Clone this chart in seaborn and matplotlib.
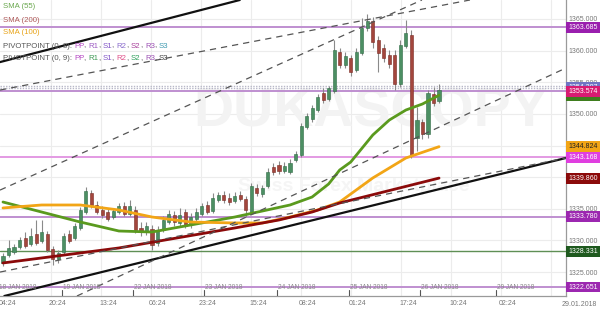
import numpy as np
import pandas as pd
import matplotlib
matplotlib.use("Agg")
import matplotlib.pyplot as plt
import matplotlib.transforms as mtransforms
import seaborn as sns

# ------------------------------------------------------------------ data
opens = [1326.45, 1327.71, 1328.18, 1328.97, 1330.40, 1329.45, 1331.03, 1329.92, 1331.03, 1328.66,
         1327.08, 1328.18, 1331.03, 1330.40, 1331.98, 1334.50, 1337.51, 1335.61, 1334.82, 1334.50,
         1333.71, 1334.50, 1335.45, 1334.19, 1334.82, 1331.98, 1331.34, 1331.82, 1329.61, 1331.66,
         1332.92, 1334.03, 1332.77, 1334.50, 1332.45, 1333.40, 1334.19, 1335.61, 1334.66, 1336.40,
         1337.19, 1336.72, 1336.24, 1337.19, 1336.56, 1334.50, 1338.30, 1337.35, 1338.61, 1341.61,
         1341.93, 1340.98, 1340.82, 1342.72, 1343.51, 1347.93, 1349.20, 1350.62, 1353.31, 1352.36,
         1353.62, 1359.78, 1357.73, 1358.84, 1356.94, 1359.63, 1363.58, 1364.68, 1361.68, 1360.42,
         1359.31, 1359.31, 1354.73, 1360.73, 1362.47, 1346.20, 1348.72, 1346.83, 1353.15, 1352.04]
closes = [1327.55, 1328.82, 1328.97, 1330.08, 1329.13, 1330.71, 1329.61, 1331.34, 1328.50, 1327.08,
          1328.03, 1330.71, 1329.92, 1332.29, 1334.82, 1337.82, 1335.61, 1334.50, 1334.03, 1333.40,
          1334.66, 1335.45, 1334.19, 1335.45, 1331.66, 1331.34, 1332.29, 1329.29, 1331.66, 1333.24,
          1334.19, 1332.92, 1334.03, 1332.29, 1333.71, 1334.50, 1335.45, 1334.50, 1336.72, 1337.19,
          1336.40, 1336.08, 1337.03, 1336.56, 1334.82, 1338.61, 1337.51, 1338.30, 1340.82, 1340.82,
          1340.98, 1341.77, 1342.25, 1343.67, 1348.09, 1349.67, 1350.94, 1352.67, 1352.20, 1354.10,
          1360.10, 1357.73, 1359.15, 1356.62, 1359.78, 1363.58, 1364.68, 1361.36, 1359.63, 1358.84,
          1357.89, 1354.73, 1360.89, 1362.79, 1343.51, 1349.04, 1346.83, 1353.31, 1351.73, 1353.78]
highs = [1328.03, 1330.08, 1329.45, 1330.55, 1331.34, 1331.98, 1333.24, 1333.24, 1331.50, 1329.13,
         1328.50, 1331.19, 1331.66, 1332.77, 1335.29, 1338.45, 1337.98, 1336.24, 1335.45, 1334.98,
         1335.14, 1335.93, 1336.08, 1336.40, 1335.45, 1332.92, 1332.92, 1332.45, 1332.29, 1333.87,
         1334.82, 1334.66, 1335.14, 1334.98, 1334.35, 1335.14, 1335.93, 1336.24, 1337.51, 1337.66,
         1337.82, 1337.51, 1337.66, 1337.82, 1337.03, 1339.09, 1338.93, 1338.77, 1341.46, 1342.25,
         1342.56, 1342.40, 1342.88, 1344.14, 1348.57, 1350.15, 1351.41, 1353.15, 1354.10, 1354.41,
         1361.68, 1360.42, 1359.78, 1359.31, 1360.42, 1365.16, 1365.79, 1365.31, 1362.31, 1361.05,
         1360.10, 1360.10, 1361.68, 1364.84, 1363.26, 1351.09, 1349.20, 1353.78, 1354.25, 1354.73]
lows = [1325.97, 1327.39, 1327.87, 1328.66, 1328.82, 1329.13, 1329.29, 1329.61, 1328.18, 1326.13,
        1326.45, 1327.87, 1329.61, 1330.08, 1331.66, 1334.19, 1335.14, 1334.19, 1333.56, 1333.08,
        1333.40, 1334.19, 1333.87, 1333.87, 1331.19, 1330.71, 1330.87, 1328.50, 1329.13, 1331.34,
        1332.61, 1332.29, 1332.29, 1331.98, 1331.98, 1332.92, 1333.87, 1334.19, 1334.35, 1336.08,
        1335.93, 1335.61, 1335.93, 1336.24, 1333.71, 1334.19, 1337.03, 1336.87, 1338.30, 1340.35,
        1340.51, 1340.67, 1340.51, 1342.40, 1343.19, 1347.62, 1348.72, 1350.30, 1351.73, 1352.04,
        1353.31, 1357.26, 1357.26, 1355.99, 1356.62, 1359.31, 1363.10, 1360.42, 1356.62, 1358.20,
        1357.26, 1353.78, 1354.25, 1360.42, 1343.04, 1344.14, 1346.04, 1346.20, 1351.25, 1351.73]

sma55_idx = [0, 7, 14, 21, 27, 34, 42, 47, 52, 56, 59, 61, 63, 67, 70, 73, 76, 79]
sma55_val = [1336.08, 1334.50, 1332.92, 1331.50, 1331.34, 1332.45, 1333.71, 1334.66, 1335.61,
             1336.87, 1338.93, 1341.14, 1342.40, 1346.67, 1349.04, 1350.62, 1351.57, 1352.96]
sma100_idx = [0, 7, 14, 21, 27, 34, 42, 47, 52, 57, 61, 67, 73, 79]
sma100_val = [1335.14, 1335.61, 1335.61, 1334.82, 1333.71, 1332.92, 1332.77, 1332.77, 1333.71,
              1334.82, 1336.08, 1339.88, 1343.04, 1344.824]
sma200_idx = [0, 21, 42, 50, 56, 61, 79]
sma200_val = [1326.45, 1328.82, 1331.98, 1333.24, 1334.50, 1335.93, 1339.86]

pivot_levels = [1363.685, 1353.574, 1343.168, 1333.780, 1322.651]
green_level = 1328.331
grey_level = 1354.207

# trend lines: two anchor points each (candle index, price)
solid_lines = [[(-0.5, 1358.2), (42.9, 1368.0)],
               [(-0.5, 1321.07), (102.0, 1343.04)]]
dashed_lines = [[(-0.5, 1337.98), (75.9, 1368.0)],
                [(-0.5, 1353.78), (84.6, 1368.0)],
                [(13.4, 1321.23), (102.0, 1357.26)],
                [(-0.5, 1325.02), (102.0, 1343.04)]]

y_ticks = [1325, 1330, 1335, 1340, 1345, 1350, 1355, 1360, 1365]
time_pos = [0.91, 9.96, 19.02, 28.08, 37.14, 46.2, 55.25, 64.31, 73.37, 82.43, 91.49]
time_labels = ["04:24", "20:24", "13:24", "06:24", "23:24", "15:24", "08:24", "01:24",
               "17:24", "10:24", "02:24"]
day_pos = [-0.9, 10.69, 23.55, 36.41, 49.64, 62.68, 75.54, 89.31]
day_labels = ["18 JAN 2018", "19 JAN 2018", "22 JAN 2018", "23 JAN 2018", "24 JAN 2018",
              "25 JAN 2018", "26 JAN 2018", "29 JAN 2018"]
grid_x = [8.7, 17.75, 26.8, 35.85, 44.9, 54.0, 63.0, 72.1, 81.1, 90.2, 99.3]

# right-side value labels (value, background, text colour)
value_tags = [(1363.685, "#9a1fae", "white"),
              (1354.207, "#6f74c4", "white"),
              (1352.960, "#3f7d1e", "white"),
              (1353.574, "#d81b72", "white"),
              (1344.824, "#f2a516", "#222222"),
              (1343.168, "#e03ee0", "white"),
              (1339.860, "#8b0a0a", "white"),
              (1333.780, "#9c27b0", "white"),
              (1328.331, "#1f5a1f", "white"),
              (1322.651, "#9c27b0", "white")]

# ------------------------------------------------------------------ style
sns.set_theme(style="white")
plt.rcParams["font.family"] = ["Liberation Sans", "DejaVu Sans"]

fig = plt.figure(figsize=(6, 3.2), dpi=100)
ax = fig.add_axes([0.0, 1 - 296 / 320, 566 / 600, 296 / 320])
ax.set_xlim(-0.54, 102.0)
ax.set_ylim(1321.23, 1368.0)

# grid
for gv in y_ticks:
    ax.axhline(gv, color="#ececec", lw=0.8, zorder=0)
for gv in grid_x:
    ax.axvline(gv, color="#ececec", lw=0.8, zorder=0)

# watermark
ax.text(0.655, 0.62, "DUKASCOPY", transform=ax.transAxes, fontsize=40, fontweight="bold",
        color="#f3f3f3", ha="center", va="center", zorder=0.5)
ax.text(0.42, 0.37, "Swiss Forex Marketplace", transform=ax.transAxes, fontsize=14,
        fontweight="bold", color="#f5f5f5", ha="left", va="center", zorder=0.5)

# pivot / horizontal levels
for lv in pivot_levels:
    col = "#e39ae3" if lv == 1343.168 else "#bf8fd0"
    ax.axhline(lv, color=col, lw=1.4, zorder=1)
ax.axhline(green_level, color="#5f8f55", lw=1.0, zorder=1)
ax.axhline(grey_level + 0.15, color="#b8b8c8", lw=1.0, ls=(0, (1, 1)), zorder=1)
ax.axhline(grey_level - 0.15, color="#b8b8c8", lw=1.0, ls=(0, (1, 1)), zorder=1)

# candles
o = np.array(opens); c = np.array(closes); h = np.array(highs); l = np.array(lows)
idx = np.arange(len(o))
up = c >= o
ax.vlines(idx, l, h, color="#8a8a8a", lw=0.8, zorder=3)
ax.bar(idx, np.maximum(np.abs(c - o), 0.12), bottom=np.minimum(o, c), width=0.56,
       color=np.where(up, "#4c8f63", "#a3463d"), edgecolor=np.where(up, "#2f6b45", "#7a2a23"),
       linewidth=0.4, zorder=4)

# moving averages
sma_df = pd.concat([
    pd.DataFrame({"i": sma55_idx, "v": sma55_val, "s": "SMA (55)"}),
    pd.DataFrame({"i": sma100_idx, "v": sma100_val, "s": "SMA (100)"}),
    pd.DataFrame({"i": sma200_idx, "v": sma200_val, "s": "SMA (200)"}),
])
sns.lineplot(data=sma_df, x="i", y="v", hue="s", sort=False, estimator=None,
             palette={"SMA (55)": "#5a9a1e", "SMA (100)": "#f2a516", "SMA (200)": "#8b0a0a"},
             lw=2.0, ax=ax, legend=False, zorder=5)

# trend lines
for p1, p2 in solid_lines:
    ax.axline(p1, p2, color="#111111", lw=1.6, zorder=6)
for p1, p2 in dashed_lines:
    ax.axline(p1, p2, color="#555555", lw=0.9, ls=(0, (5, 4)), zorder=6)

# axes decoration
ax.set_xlabel(""); ax.set_ylabel("")
for s in ["top", "left"]:
    ax.spines[s].set_visible(False)
ax.spines["right"].set_color("#9a9a9a")
ax.spines["bottom"].set_color("#9a9a9a")
ax.spines["right"].set_linewidth(0.9)
ax.spines["bottom"].set_linewidth(0.9)
ax.yaxis.tick_right()
ax.set_yticks(y_ticks)
ax.set_yticklabels([f"{v:.3f}" for v in y_ticks])
ax.tick_params(axis="y", length=0, pad=2, labelsize=5.0, labelcolor="#777777")
ax.set_xticks(time_pos)
ax.set_xticklabels(time_labels)
ax.tick_params(axis="x", length=0, pad=3, labelsize=5.0, labelcolor="#777777")
fig.text(579 / 600, 1 - 304 / 320, "29.01.2018", fontsize=5.0, color="#777777",
         ha="center", va="center")

# day labels inside the plot
for p, lab in zip(day_pos, day_labels):
    ax.text(p + 0.25, 0.028, lab, transform=ax.get_xaxis_transform(), fontsize=4.7,
            color="#8a8a8a", ha="left", va="center", zorder=7, clip_on=True)
    if p > 0:
        ax.plot([p, p], [0, 0.02], transform=ax.get_xaxis_transform(), color="#555555",
                lw=0.8, zorder=7)

# value tags on the right (they overlap in the original as well)
tr = mtransforms.blended_transform_factory(ax.transAxes, ax.transData)
for val, bg, tc in value_tags:
    ax.text(1.004, val, f"{val:.3f}", transform=tr, fontsize=5.0, color=tc, ha="left",
            va="center", clip_on=False, zorder=20,
            bbox=dict(boxstyle="square,pad=0.28", fc=bg, ec="none"))

# legend text, top-left
fs = 5.6
leg_y = [7, 20, 33]
for (txt, col), yy in zip([("SMA (55)", "#6aa84f"), ("SMA (200)", "#b05a5a"), ("SMA (100)", "#e8a317")], leg_y):
    ax.text(3 / 566, 1 - yy / 296, txt, transform=ax.transAxes, fontsize=fs, color=col,
            ha="left", va="center", zorder=21)


def rainbow(ypx, parts):
    t = ax.text(3 / 566, 1 - ypx / 296, parts[0][0], transform=ax.transAxes, fontsize=fs,
                color=parts[0][1], ha="left", va="center", zorder=21)
    for s, col in parts[1:]:
        t = ax.annotate(s, xycoords=t, xy=(1, 0), va="bottom", ha="left", fontsize=fs,
                        color=col, zorder=21)


g = "#555555"
rainbow(46, [("PIVOTPOINT (0, 8): ", g), ("PP", "#b548c4"), (", ", g), ("R1", "#9d5cc4"),
             (", ", g), ("S1", "#8256c8"), (", ", g), ("R2", "#8a6ccc"), (", ", g),
             ("S2", "#a8409a"), (", ", g), ("R3", "#9c50b4"), (", ", g), ("S3", "#3f9ab0")])
rainbow(59, [("PIVOTPOINT (0, 9): ", g), ("PP", "#b548c4"), (", ", g), ("R1", "#3f9a55"),
             (", ", g), ("S1", "#8256c8"), (", ", g), ("R2", "#e0508a"), (", ", g),
             ("S2", "#2fa05c"), (", ", g), ("R3", "#9c50b4"), (", ", g), ("S3", "#444444")])

fig.savefig("out.png", dpi=100)
